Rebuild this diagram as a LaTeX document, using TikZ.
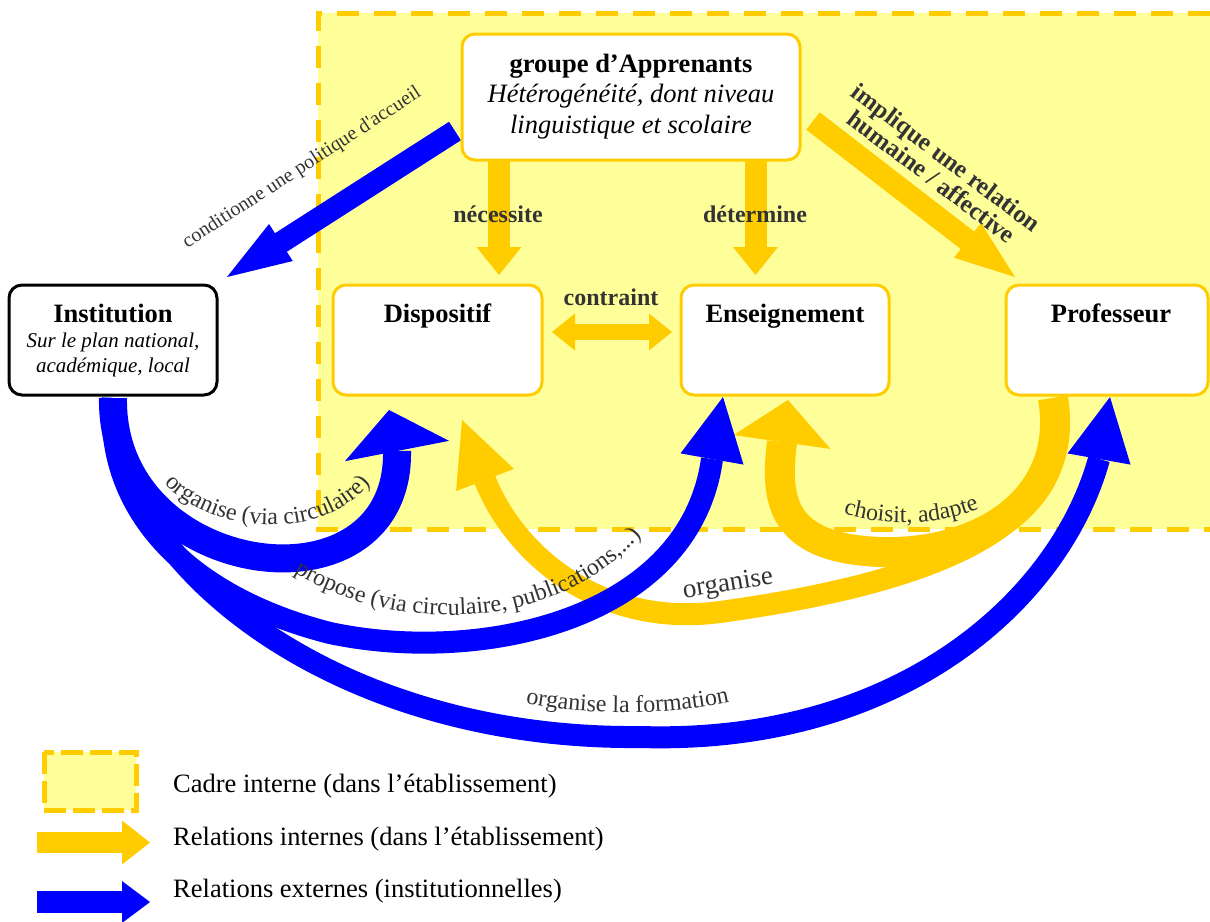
\documentclass[tikz,border=0pt]{standalone}
\usepackage{fontspec}
\setmainfont{Liberation Serif}
\usetikzlibrary{calc,decorations.text}
\definecolor{yel}{HTML}{FFCC00}
\definecolor{paleyel}{HTML}{FFFF99}
\definecolor{blu}{HTML}{0000FF}
\definecolor{labgray}{HTML}{333333}
\pgfdeclarelayer{bg}
\pgfsetlayers{bg,main}
\newcommand\labfont{\fontsize{24}{24}\selectfont\color{labgray}}
\newcommand\arrowhead[4]{\fill[#1] (#3) -- ($(#2)!#4!90:(#3)$) -- ($(#2)!#4!-90:(#3)$) -- cycle;}
\newcommand\blockarrow[6]{%
  \coordinate (ba-base) at ($(#3)!#5!(#2)$);
  \coordinate (ba-over) at ($(#3)!#5-1pt!(#2)$);
  \draw[#1, line width=#4] (#2) -- (ba-over);
  \arrowhead{#1}{ba-base}{#3}{#6}}
\tikzset{
  box/.style={rectangle, draw=yel, line width=3pt, fill=white, rounded corners=13pt, inner sep=0pt},
  ttl/.style={anchor=base, inner sep=0pt, font=\fontsize{26.5}{30}\selectfont\bfseries},
  sub/.style={anchor=base, inner sep=0pt, font=\fontsize{26.5}{30}\selectfont\itshape},
  smallsub/.style={anchor=base, inner sep=0pt, font=\fontsize{21}{25}\selectfont\itshape},
  blbl/.style={anchor=base, inner sep=0pt, text=labgray, font=\fontsize{24}{24}\selectfont\bfseries},
  rlbl/.style={inner sep=0pt, text=labgray, font=\fontsize{24}{24}\selectfont},
  legtxt/.style={anchor=base west, inner sep=0pt, font=\fontsize{26.5}{30}\selectfont},
  onpath/.style={decorate, decoration={text along path, text align=center, text={|\labfont|#1}}},
  yshaft/.style={yel, line width=#1},
  bshaft/.style={blu, line width=#1},
}
\begin{document}
\begin{tikzpicture}[x=1pt,y=-1pt]
\useasboundingbox (0,0) rectangle (1210,921);

% ---------- boxes ----------
\node[box, minimum width=338pt, minimum height=126pt] (grp) at (631,97) {};
\node[box, minimum width=209pt, minimum height=110pt] (disp) at (437.5,340) {};
\node[box, minimum width=208pt, minimum height=110pt] (ens) at (785,340) {};
\node[box, minimum width=202pt, minimum height=110pt] (prof) at (1107,340) {};
\node[box, draw=black, minimum width=208pt, minimum height=110pt] (inst) at (113,340) {};

\node[ttl] (grpT) at (631,72) {groupe d’Apprenants};
\node[sub] (grpS1) at (631,102) {Hétérogénéité, dont niveau};
\node[sub] (grpS2) at (631,133) {linguistique et scolaire};
\node[ttl] (dispT) at (437.5,322) {Dispositif};
\node[ttl] (ensT) at (785,322) {Enseignement};
\node[ttl] (profT) at (1111,322) {Professeur};
\node[ttl] (instT) at (113,322) {Institution};
\node[smallsub] (instS1) at (113,347) {Sur le plan national,};
\node[smallsub] (instS2) at (113,372) {académique, local};

% ---------- background: frame and arrows ----------
\begin{pgfonlayer}{bg}
\fill[paleyel] (318,13) rectangle (1210,529);
\draw[yel, line width=5pt, dash pattern=on 22pt off 15pt] (1210,13) -- (318,13) -- (318,529) -- (1210,529);

% yellow straight arrows
\coordinate (necS) at (499,160); \coordinate (necT) at (499,275);
\blockarrow{yel}{necS}{necT}{22pt}{28pt}{22.5pt}
\coordinate (detS) at (755.5,160); \coordinate (detT) at (755.5,275);
\blockarrow{yel}{detS}{detT}{22pt}{28pt}{22.5pt}
\coordinate (impS) at (813,121); \coordinate (impT) at (1015,277);
\blockarrow{yel}{impS}{impT}{22pt}{60pt}{22pt}
% double arrow contraint
\coordinate (conL) at (552,332); \coordinate (conR) at (672,332);
\coordinate (conLB) at (575,332); \coordinate (conRB) at (649,332);
\draw[yshaft=16pt] (574,332) -- (650,332);
\arrowhead{yel}{conLB}{conL}{18.5pt}
\arrowhead{yel}{conRB}{conR}{18.5pt}

% yellow curved arrows
\coordinate (dS) at (1053,398); \coordinate (dB) at (485,480); \coordinate (dT) at (462,420);
\draw[yshaft=22pt] (dS) .. controls (1080,520) and (950,580) .. (720,612) .. controls (600,628) and (515,555) .. (dB);
\arrowhead{yel}{dB}{dT}{31pt}
\coordinate (eS) at (1053,398); \coordinate (eB) at (782,442); \coordinate (eT) at (788,400);
\draw[yshaft=30pt] (eS) .. controls (1070,500) and (980,555) .. (880,552) .. controls (780,548) and (775,500) .. (eB);
\arrowhead{yel}{eB}{eT}{49pt}

% blue straight arrow
\coordinate (cdS) at (455,131); \coordinate (cdT) at (227,277);
\blockarrow{blu}{cdS}{cdT}{22pt}{64pt}{22pt}

% blue curved arrows
\coordinate (aS) at (113,398); \coordinate (aB) at (397,451); \coordinate (aT) at (389,410);
\draw[bshaft=28pt] (aS) .. controls (110,580) and (400,620) .. (aB);
\arrowhead{blu}{aB}{aT}{53pt}
\coordinate (bB) at (712,459); \coordinate (bT) at (723,397);
\draw[bshaft=22pt] (aS) .. controls (105,520) and (200,600) .. (330,633) .. controls (480,665) and (690,620) .. (bB);
\arrowhead{blu}{bB}{bT}{32pt}
\coordinate (cB) at (1099,459); \coordinate (cT) at (1110,397);
\draw[bshaft=22pt] (aS) .. controls (110,560) and (330,740) .. (640,737) .. controls (900,745) and (1060,600) .. (cB);
\arrowhead{blu}{cB}{cT}{32pt}
\end{pgfonlayer}

% ---------- labels ----------
\node[blbl] (lNec) at (498,222) {nécessite};
\node[blbl] (lDet) at (755,222) {détermine};
\node[blbl] (lCon) at (611,305) {contraint};
\node[rlbl, font=\fontsize{20}{20}\selectfont, rotate=33] (lCond) at (302,168) {conditionne une politique d\textquotesingle accueil};
\node[rlbl, font=\fontsize{25}{24}\selectfont\bfseries, align=center, rotate=-37] (lImp) at (939,167) {implique une relation\\humaine / affective};
\node[rlbl, font=\fontsize{27}{27}\selectfont, rotate=9] (lOrgY) at (728,585) {organise};

\path[onpath={organise (via circulaire)}] (160,478) .. controls (200,530) and (320,550) .. (375,478);
\path[onpath={propose (via circulaire, publications,...)}] (283,565) .. controls (380,635) and (560,640) .. (650,525);
\path[onpath={organise la formation}] (510,700) .. controls (585,717) and (670,717) .. (745,698);
\path[onpath={choisit, adapte}] (830,509) .. controls (875,528) and (945,528) .. (992,502);

% ---------- legend ----------
\fill[paleyel] (44,752) rectangle (136,810);
\draw[yel, line width=5pt, dash pattern=on 22pt off 7pt] (44,752) rectangle (136,810);
\coordinate (lgYS) at (37,842.5); \coordinate (lgYT) at (150,842.5);
\blockarrow{yel}{lgYS}{lgYT}{21pt}{28pt}{22pt}
\coordinate (lgBS) at (37,902); \coordinate (lgBT) at (150,902);
\blockarrow{blu}{lgBS}{lgBT}{22pt}{28pt}{21pt}
\node[legtxt] (leg1) at (173,792) {Cadre interne (dans l’établissement)};
\node[legtxt] (leg2) at (173,845) {Relations internes (dans l’établissement)};
\node[legtxt] (leg3) at (173,897) {Relations externes (institutionnelles)};
\end{tikzpicture}
\end{document}
